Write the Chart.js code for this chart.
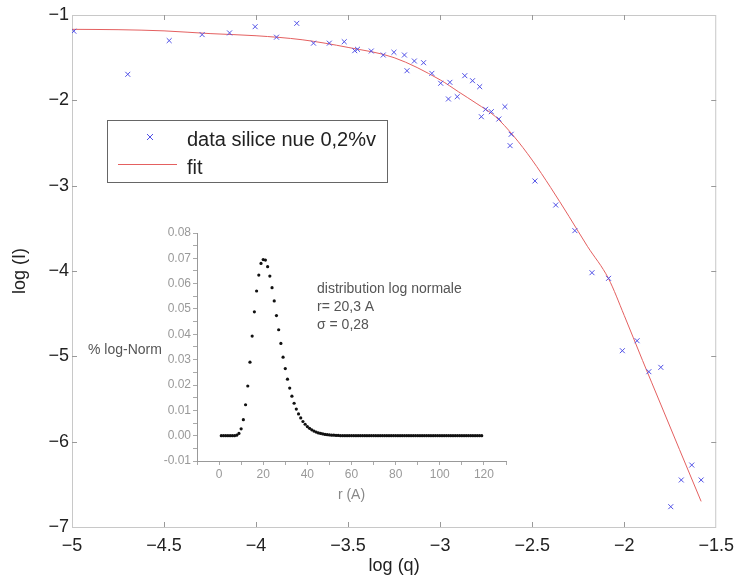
<!DOCTYPE html>
<html>
<head>
<meta charset="utf-8">
<script src="https://cdn.jsdelivr.net/npm/chart.js@4.4.1/dist/chart.umd.min.js"></script>
<style>
  html, body { margin: 0; padding: 0; background: #fff; }
  #wrap { position: relative; width: 742px; height: 582px; }
  #main { position: absolute; left: 0; top: 0; }
  #inset { position: absolute; left: 80px; top: 222px; }
</style>
</head>
<body>
<div id="wrap">
  <canvas id="main" width="742" height="582"></canvas>
  <canvas id="inset" width="440" height="290"></canvas>
</div>
<script>
// measured points, log(q) / log(I)
const qData = [-4.99, -4.697, -4.472, -4.293, -4.144, -4.005, -3.889, -3.779, -3.688, -3.602,
  -3.521, -3.464, -3.449, -3.374, -3.309, -3.251, -3.194, -3.18, -3.14, -3.09,
  -3.045, -2.997, -2.947, -2.955, -2.907, -2.866, -2.824, -2.785, -2.776, -2.753,
  -2.722, -2.681, -2.648, -2.614, -2.62, -2.485, -2.372, -2.268, -2.175, -2.085,
  -2.01, -1.93, -1.866, -1.801, -1.747, -1.69, -1.633, -1.582];
const iData = [-1.19, -1.695, -1.30, -1.23, -1.21, -1.137, -1.26, -1.098, -1.33, -1.33,
  -1.313, -1.418, -1.402, -1.422, -1.469, -1.437, -1.469, -1.653, -1.539, -1.559,
  -1.684, -1.80, -1.789, -1.984, -1.957, -1.711, -1.77, -1.84, -2.192, -2.105,
  -2.133, -2.219, -2.074, -2.398, -2.531, -2.945, -3.227, -3.527, -4.02, -4.086,
  -4.934, -4.817, -5.18, -5.129, -6.762, -6.449, -6.274, -6.449];

// fit curve
const fitQ = [-5, -4.75, -4.5, -4.25, -4, -3.75, -3.5, -3.25, -3, -2.9, -2.8, -2.7,
  -2.6, -2.5, -2.4, -2.3, -2.2, -2.085, -2, -1.9, -1.8, -1.7, -1.582];
const fitI = [-1.168, -1.172, -1.186, -1.218, -1.243, -1.29, -1.38, -1.5, -1.76, -1.9, -2.04, -2.19,
  -2.42, -2.7, -3.02, -3.36, -3.71, -4.09, -4.52, -5.05, -5.57, -6.09, -6.7];

const legendLabels = ['data silice nue 0,2%v', 'fit'];

// inset: log-normal size distribution
const rValues = [1, 2, 3, 4, 5, 6, 7, 8, 9, 10, 11, 12, 13, 14, 15, 16, 17, 18, 19, 20,
  21, 22, 23, 24, 25, 26, 27, 28, 29, 30, 31, 32, 33, 34, 35, 36, 37, 38, 39, 40,
  41, 42, 43, 44, 45, 46, 47, 48, 49, 50, 51, 52, 53, 54, 55, 56, 57, 58, 59, 60,
  61, 62, 63, 64, 65, 66, 67, 68, 69, 70, 71, 72, 73, 74, 75, 76, 77, 78, 79, 80,
  81, 82, 83, 84, 85, 86, 87, 88, 89, 90, 91, 92, 93, 94, 95, 96, 97, 98, 99, 100,
  101, 102, 103, 104, 105, 106, 107, 108, 109, 110, 111, 112, 113, 114, 115, 116, 117, 118, 119];
const pdfValues = [0, 0, 0, 0, 0, 0, 0, 0.0002, 0.0009, 0.0027,
  0.0063, 0.0122, 0.0196, 0.029, 0.0393, 0.0489, 0.0571, 0.0634, 0.068, 0.0695,
  0.0693, 0.0667, 0.063, 0.0584, 0.0532, 0.0474, 0.0418, 0.0364, 0.031, 0.0265,
  0.0223, 0.0188, 0.0156, 0.0128, 0.0105, 0.0086, 0.007, 0.0056, 0.0045, 0.0036,
  0.0029, 0.0023, 0.0018, 0.0014, 0.0011, 0.0009, 0.0007, 0.0005, 0.0004, 0.0003,
  0.0002, 0.0002, 0.0001, 0.0001, 0, 0, 0, 0, 0, 0,
  0, 0, 0, 0, 0, 0, 0, 0, 0, 0,
  0, 0, 0, 0, 0, 0, 0, 0, 0, 0,
  0, 0, 0, 0, 0, 0, 0, 0, 0, 0,
  0, 0, 0, 0, 0, 0, 0, 0, 0, 0,
  0, 0, 0, 0, 0, 0, 0, 0, 0, 0,
  0, 0, 0, 0, 0, 0, 0, 0, 0];
const insetNotes = ['distribution log normale', 'r= 20,3 A', '\u03c3 = 0,28'];

const FONT = '"Liberation Sans", Arial, sans-serif';
const BLUE = 'rgb(80,80,230)';
const RED = 'rgb(228,96,96)';
const minus = v => String(v).replace('-', '\u2212');

// box with inward ticks on all four sides
const frameTicks = {
  id: 'frameTicks',
  beforeDatasetsDraw(chart) {
    const {ctx, chartArea: a, scales} = chart;
    ctx.save();
    ctx.strokeStyle = '#c8c8c8';
    ctx.lineWidth = 1;
    ctx.strokeRect(a.left + 0.5, a.top + 0.5, a.right - a.left - 1, a.bottom - a.top);
    ctx.strokeStyle = '#999';
    ctx.beginPath();
    scales.x.ticks.forEach(t => {
      const px = Math.round(scales.x.getPixelForValue(t.value)) + 0.5;
      if (px < a.left + 2 || px > a.right - 2) return;
      ctx.moveTo(px, a.bottom); ctx.lineTo(px, a.bottom - 5);
      ctx.moveTo(px, a.top); ctx.lineTo(px, a.top + 5);
    });
    scales.y.ticks.forEach(t => {
      const py = Math.round(scales.y.getPixelForValue(t.value)) + 0.5;
      if (py < a.top + 2 || py > a.bottom - 2) return;
      ctx.moveTo(a.left, py); ctx.lineTo(a.left + 5, py);
      ctx.moveTo(a.right, py); ctx.lineTo(a.right - 5, py);
    });
    ctx.stroke();
    ctx.restore();
  }
};

const boxLegend = {
  id: 'boxLegend',
  afterDraw(chart) {
    const {ctx, chartArea: a} = chart;
    const x0 = a.left + 35, y0 = a.top + 105;
    ctx.save();
    ctx.fillStyle = '#fff';
    ctx.fillRect(x0, y0, 280, 62);
    ctx.strokeStyle = '#666';
    ctx.lineWidth = 1;
    ctx.strokeRect(x0 + 0.5, y0 + 0.5, 280, 62);
    // marker
    ctx.strokeStyle = BLUE;
    ctx.beginPath();
    ctx.moveTo(x0 + 40, y0 + 14); ctx.lineTo(x0 + 46, y0 + 20);
    ctx.moveTo(x0 + 46, y0 + 14); ctx.lineTo(x0 + 40, y0 + 20);
    ctx.stroke();
    ctx.strokeStyle = RED;
    ctx.beginPath();
    ctx.moveTo(x0 + 11, y0 + 44.5); ctx.lineTo(x0 + 70, y0 + 44.5);
    ctx.stroke();
    ctx.fillStyle = '#222';
    ctx.font = '20px ' + FONT;
    ctx.textBaseline = 'middle';
    ctx.fillText(legendLabels[0], x0 + 80, y0 + 20);
    ctx.fillText(legendLabels[1], x0 + 80, y0 + 48);
    ctx.restore();
  }
};

new Chart(document.getElementById('main'), {
  type: 'scatter',
  data: {
    datasets: [{
      label: legendLabels[0],
      data: qData.map((q, i) => ({x: q, y: iData[i]})),
      pointStyle: 'crossRot',
      pointRadius: 3.5,
      borderColor: BLUE,
      backgroundColor: BLUE,
      borderWidth: 1
    }, {
      label: legendLabels[1],
      data: fitQ.map((q, i) => ({x: q, y: fitI[i]})),
      showLine: true,
      pointRadius: 0,
      borderColor: RED,
      borderWidth: 1,
      cubicInterpolationMode: 'monotone'
    }]
  },
  options: {
    responsive: false,
    animation: false,
    layout: {padding: {top: 15, right: 20, left: 0, bottom: 0}},
    plugins: {legend: {display: false}, tooltip: {enabled: false}},
    scales: {
      x: {
        type: 'linear', min: -5, max: -1.5,
        afterFit: s => { s.height = 55; },
        ticks: {stepSize: 0.5, autoSkip: false, maxRotation: 0, padding: 8,
          callback: v => minus(v), font: {family: FONT, size: 18}, color: '#222'},
        grid: {display: false, drawTicks: false},
        border: {display: false},
        title: {display: true, text: 'log (q)', font: {family: FONT, size: 18}, color: '#222',
          padding: {top: 0, bottom: 5}}
      },
      y: {
        type: 'linear', min: -7, max: -1,
        afterFit: s => { s.width = 72; },
        ticks: {stepSize: 1, autoSkip: false, padding: 3,
          callback: v => minus(v), font: {family: FONT, size: 18}, color: '#222'},
        grid: {display: false, drawTicks: false},
        border: {display: false},
        title: {display: true, text: 'log (I)', font: {family: FONT, size: 18}, color: '#222',
          padding: {top: 9, bottom: 0}}
      }
    }
  },
  plugins: [frameTicks, boxLegend]
});

const insetText = {
  id: 'insetText',
  afterDraw(chart) {
    const {ctx, chartArea: a} = chart;
    ctx.save();
    ctx.font = '14px ' + FONT;
    ctx.fillStyle = '#555';
    ctx.textBaseline = 'middle';
    ctx.fillText('% log-Norm', 8, a.top + 117);
    insetNotes.forEach((s, i) => ctx.fillText(s, a.left + 120, a.top + 56 + i * 18));
    ctx.restore();
  }
};

const insetGrid = {display: true, drawOnChartArea: false, drawTicks: true, tickLength: 4, color: '#aaa'};

new Chart(document.getElementById('inset'), {
  type: 'scatter',
  data: {
    datasets: [{
      data: rValues.map((r, i) => ({x: r, y: pdfValues[i]})),
      pointRadius: 1.6,
      borderWidth: 0,
      backgroundColor: '#111'
    }]
  },
  options: {
    responsive: false,
    animation: false,
    layout: {padding: {top: 11, right: 14, left: 0, bottom: 0}},
    plugins: {legend: {display: false}, tooltip: {enabled: false}},
    scales: {
      x: {
        type: 'linear', min: -10, max: 130,
        afterFit: s => { s.height = 51; },
        ticks: {stepSize: 10, autoSkip: false, maxRotation: 0, padding: 2,
          callback: v => (v % 20 === 0 ? String(v) : ''),
          font: {family: FONT, size: 12}, color: '#999'},
        grid: insetGrid,
        border: {color: '#999'},
        title: {display: true, text: 'r (A)', font: {family: FONT, size: 14}, color: '#888',
          padding: {top: 0, bottom: 8}}
      },
      y: {
        type: 'linear', min: -0.01, max: 0.08,
        afterFit: s => { s.width = 117; },
        ticks: {stepSize: 0.005, autoSkip: false, padding: 2,
          callback: v => (Math.abs(Math.round(v * 1000)) % 10 === 0 ? v.toFixed(2) : ''),
          font: {family: FONT, size: 12}, color: '#999'},
        grid: insetGrid,
        border: {color: '#999'}
      }
    }
  },
  plugins: [insetText]
});
</script>
</body>
</html>
